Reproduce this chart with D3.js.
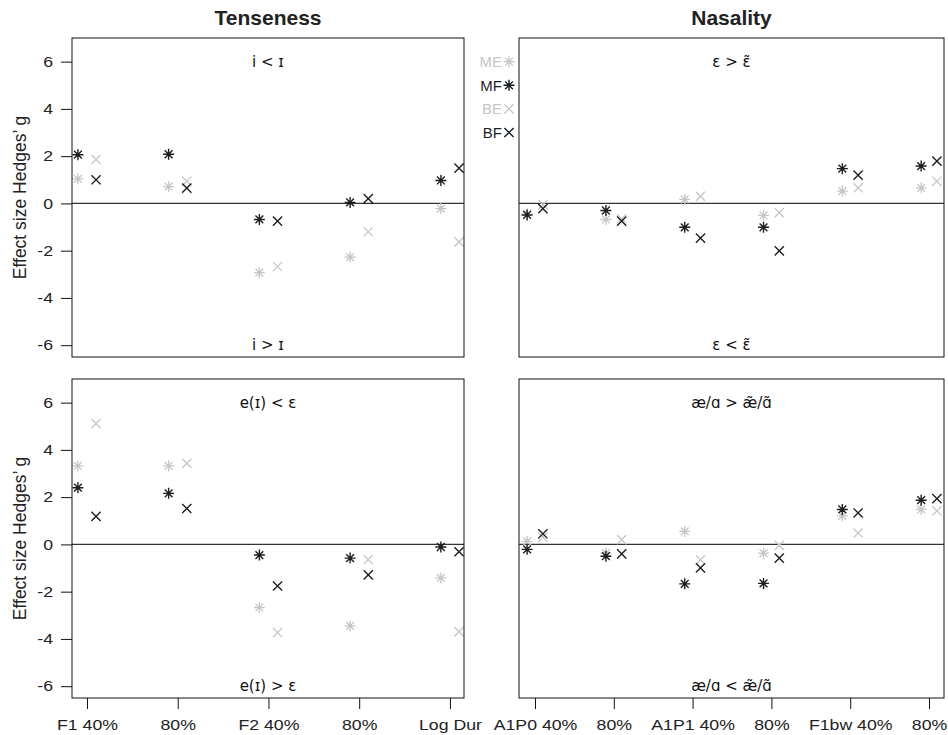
<!DOCTYPE html>
<html>
<head>
<meta charset="utf-8">
<script src="https://cdn.jsdelivr.net/npm/d3@7"></script>
<style>
  body { margin: 0; background: #fff; }
  svg { display: block; font-family: "Liberation Sans", Arial, sans-serif; }
</style>
</head>
<body>
<div id="chart"></div>
<script>
const tenseCats = ['F1 40%', '80%', 'F2 40%', '80%', 'Log Dur'];
const nasalCats = ['A1P0 40%', '80%', 'A1P1 40%', '80%', 'F1bw 40%', '80%'];
const seriesNames = ['ME', 'MF', 'BE', 'BF'];
const yTicks = [-6, -4, -2, 0, 2, 4, 6];

// i vs ɪ
const iME = [1.04, 0.71, -2.93, -2.27, -0.22];
const iMF = [2.06, 2.08, -0.68, 0.04, 0.97];
const iBE = [1.86, 0.94, -2.67, -1.20, -1.63];
const iBF = [1.00, 0.65, -0.75, 0.20, 1.49];

// ε vs ε̃
const epsME = [-0.45, -0.68, 0.17, -0.51, 0.52, 0.66];
const epsMF = [-0.49, -0.30, -1.01, -1.01, 1.47, 1.58];
const epsBE = [-0.05, -0.65, 0.30, -0.39, 0.66, 0.94];
const epsBF = [-0.22, -0.75, -1.47, -2.01, 1.20, 1.79];

// e(ɪ) vs ε
const eME = [3.32, 3.32, -2.67, -3.45, -1.42];
const eMF = [2.40, 2.16, -0.45, -0.58, -0.11];
const eBE = [5.11, 3.43, -3.73, -0.64, -3.69];
const eBF = [1.19, 1.52, -1.76, -1.29, -0.31];

// æ/ɑ vs æ̃/ɑ̃
const aeME = [0.13, -0.37, 0.55, -0.37, 1.21, 1.48];
const aeMF = [-0.21, -0.50, -1.67, -1.65, 1.48, 1.87];
const aeBE = [0.31, 0.20, -0.65, -0.04, 0.48, 1.42];
const aeBF = [0.45, -0.40, -0.99, -0.58, 1.33, 1.94];

const light = '#c6c6c6';
const dark = '#1e1e1e';
const seriesStyle = {
    ME: { color: light, shape: 'star', dx: -0.1 },
    MF: { color: dark, shape: 'star', dx: -0.1 },
    BE: { color: light, shape: 'cross', dx: 0.1 },
    BF: { color: dark, shape: 'cross', dx: 0.1 }
};
const sx = 1.18; // wide-ish label text

const svg = d3.select('#chart')
    .append('svg')
    .attr('width', 948)
    .attr('height', 735);

function starPath(r) {
    const d = r * 0.7071;
    return `M${-r},0H${r}M0,${-r}V${r}M${-d},${-d}L${d},${d}M${-d},${d}L${d},${-d}`;
}
function crossPath(r) {
    return `M${-r},${-r}L${r},${r}M${-r},${r}L${r},${-r}`;
}

const panels = [
    { x0: 72, x1: 464, y0: 38, y1: 357, cats: tenseCats, xd: [0.835, 5.155],
      data: [iME, iMF, iBE, iBF], up: 'i < ɪ', down: 'i > ɪ', yAxis: true, xAxis: false },
    { x0: 519, x1: 944, y0: 38, y1: 357, cats: nasalCats, xd: [0.797, 6.19],
      data: [epsME, epsMF, epsBE, epsBF], up: 'ε > ε\u0303', down: 'ε < ε\u0303', yAxis: false, xAxis: false },
    { x0: 72, x1: 464, y0: 379, y1: 698, cats: tenseCats, xd: [0.835, 5.155],
      data: [eME, eMF, eBE, eBF], up: 'e(ɪ) < ε', down: 'e(ɪ) > ε', yAxis: true, xAxis: true },
    { x0: 519, x1: 944, y0: 379, y1: 698, cats: nasalCats, xd: [0.797, 6.19],
      data: [aeME, aeMF, aeBE, aeBF], up: 'æ/ɑ > æ\u0303/ɑ\u0303', down: 'æ/ɑ < æ\u0303/ɑ\u0303', yAxis: false, xAxis: true }
];

panels.forEach(p => {
    const x = d3.scaleLinear().domain(p.xd).range([p.x0, p.x1]);
    const y = d3.scaleLinear().domain([-6.5, 7]).range([p.y1, p.y0]);
    p.x = x; p.y = y;
    const g = svg.append('g');

    // zero line
    g.append('line')
        .attr('x1', p.x0).attr('x2', p.x1)
        .attr('y1', y(0)).attr('y2', y(0))
        .attr('stroke', '#333').attr('stroke-width', 1.2);

    // annotations (DejaVu handles the combining tilde)
    [[p.up, 6], [p.down, -6]].forEach(([t, v]) => {
        g.append('text')
            .attr('x', (p.x0 + p.x1) / 2)
            .attr('y', y(v))
            .attr('text-anchor', 'middle')
            .attr('dy', '0.35em')
            .attr('font-family', '"DejaVu Sans", sans-serif')
            .attr('font-size', 15)
            .attr('fill', '#111')
            .text(t);
    });

    // points
    p.data.forEach((vals, si) => {
        const st = seriesStyle[seriesNames[si]];
        g.selectAll(null)
            .data(vals)
            .enter()
            .append('path')
            .attr('transform', (d, i) => `translate(${x(i + 1 + st.dx)},${y(d)})`)
            .attr('d', st.shape === 'star' ? starPath(5.5) : crossPath(4.6))
            .attr('fill', 'none')
            .attr('stroke', st.color)
            .attr('stroke-width', st.color === dark ? 1.4 : 1.3);
    });

    // frame
    g.append('rect')
        .attr('x', p.x0).attr('y', p.y0)
        .attr('width', p.x1 - p.x0).attr('height', p.y1 - p.y0)
        .attr('fill', 'none').attr('stroke', '#111').attr('stroke-width', 1);

    if (p.yAxis) {
        const ax = g.append('g')
            .attr('transform', `translate(${p.x0},0)`)
            .call(d3.axisLeft(y).tickValues(yTicks).tickSize(11).tickPadding(8).tickFormat(d => String(d)));
        ax.select('.domain').remove();
        ax.selectAll('line').attr('stroke', '#111');
        ax.selectAll('text')
            .attr('x', -19 / sx)
            .attr('transform', `scale(${sx},1)`)
            .attr('font-size', 15)
            .attr('font-family', '"Liberation Sans", Arial, sans-serif')
            .attr('fill', '#222');

        g.append('text')
            .attr('transform', `translate(20,${(p.y0 + p.y1) / 2}) rotate(-90)`)
            .attr('text-anchor', 'middle')
            .attr('dy', '0.35em')
            .attr('font-size', 17.5)
            .attr('fill', '#222')
            .text('Effect size Hedges\u2019 g');
    }

    if (p.xAxis) {
        const ax = g.append('g')
            .attr('transform', `translate(0,${p.y1})`)
            .call(d3.axisBottom(x).tickValues(d3.range(1, p.cats.length + 1))
                .tickSize(11).tickPadding(10).tickFormat(i => p.cats[i - 1]));
        ax.select('.domain').remove();
        ax.selectAll('line').attr('stroke', '#111');
        ax.selectAll('text')
            .attr('transform', `scale(${sx},1)`)
            .attr('font-size', 15)
            .attr('font-family', '"Liberation Sans", Arial, sans-serif')
            .attr('fill', '#222');
    }
});

// column titles
[['Tenseness', panels[0]], ['Nasality', panels[1]]].forEach(([t, p]) => {
    svg.append('text')
        .attr('x', (p.x0 + p.x1) / 2)
        .attr('y', 25)
        .attr('text-anchor', 'middle')
        .attr('font-size', 21)
        .attr('font-weight', 'bold')
        .attr('fill', '#222')
        .text(t);
});

// legend in the gap between the columns, on the top panel's scale
const ly = panels[0].y;
const legend = svg.append('g');
seriesNames.forEach((name, i) => {
    const st = seriesStyle[name];
    const yy = ly(6 - i);
    legend.append('text')
        .attr('x', 502)
        .attr('y', yy)
        .attr('dy', '0.35em')
        .attr('text-anchor', 'end')
        .attr('font-size', 15)
        .attr('fill', st.color)
        .text(name);
    legend.append('path')
        .attr('transform', `translate(509,${yy})`)
        .attr('d', st.shape === 'star' ? starPath(5.5) : crossPath(4.6))
        .attr('fill', 'none')
        .attr('stroke', st.color)
        .attr('stroke-width', st.color === dark ? 1.4 : 1.3);
});
</script>
</body>
</html>
